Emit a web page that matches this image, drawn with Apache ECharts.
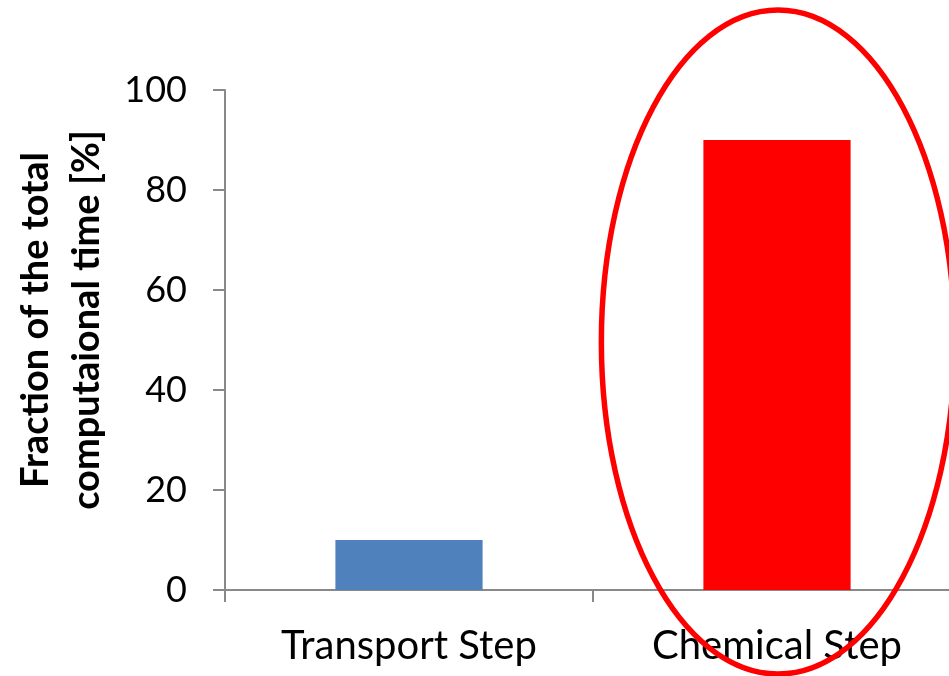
<!DOCTYPE html>
<html>
<head>
<meta charset="utf-8">
<script src="https://cdn.jsdelivr.net/npm/echarts@6/dist/echarts.min.js"></script>
<style>
html,body{margin:0;padding:0;background:#fff;}
#c{width:949px;height:676px;}
</style>
</head>
<body>
<div id="c"></div>
<script>
const categories = ['Transport Step', 'Chemical Step'];
const values = [10, 90];
const barColors = ['#4F81BD', '#FF0000'];
const yTicks = [0, 20, 40, 60, 80, 100];
const yAxisName = 'Fraction of the total\ncomputaional time [%]';
// highlight ellipse around the second category (data units)
const highlightCategory = 'Chemical Step';
const highlightCenterValue = 49.6;
const highlightHalfHeightValue = 66.4;
const highlightHalfWidthFraction = 0.48; // of category band width

(function () {
const chart = echarts.init(document.getElementById('c'));
const axisGray = '#898989';
chart.setOption({
  animation: false,
  backgroundColor: '#ffffff',
  grid: { left: 225, top: 90, width: 736, height: 500, containLabel: false, outerBoundsMode: 'none' },
  xAxis: {
    type: 'category',
    data: categories,
    boundaryGap: true,
    axisLine: { lineStyle: { color: axisGray, width: 2 } },
    axisTick: { show: true, length: 12, lineStyle: { color: axisGray, width: 2 } },
    axisLabel: { color: '#000', fontFamily: 'Lato', fontSize: 40, margin: 36 },
    splitLine: { show: false }
  },
  yAxis: {
    type: 'value',
    min: yTicks[0],
    max: yTicks[yTicks.length - 1],
    interval: 20,
    axisLine: { show: true, lineStyle: { color: axisGray, width: 2 } },
    axisTick: { show: true, length: 12, lineStyle: { color: axisGray, width: 2 } },
    axisLabel: { color: '#000', fontFamily: 'Lato', fontSize: 36, margin: 38 },
    splitLine: { show: false },
    name: yAxisName,
    nameLocation: 'middle',
    nameRotate: 90,
    nameGap: 113,
    nameTextStyle: { color: '#000', fontFamily: 'Lato', fontWeight: 'bold', fontSize: 38, lineHeight: 51, padding: [0, 0, 0, 40], align: 'center' }
  },
  series: [{
    type: 'bar',
    data: values.map((v, i) => ({ value: v, itemStyle: { color: barColors[i] } })),
    barWidth: '40%'
  }]
});

const ctr = chart.convertToPixel({ xAxisIndex: 0, yAxisIndex: 0 }, [highlightCategory, highlightCenterValue]);
const topPx = chart.convertToPixel({ yAxisIndex: 0 }, highlightCenterValue + highlightHalfHeightValue);
const p0 = chart.convertToPixel({ xAxisIndex: 0 }, categories[0]);
const p1 = chart.convertToPixel({ xAxisIndex: 0 }, categories[1]);
const band = Math.abs(p1 - p0);
chart.setOption({
  graphic: [{
    type: 'ellipse',
    z: 100,
    silent: true,
    shape: { cx: ctr[0] + 1, cy: ctr[1], rx: band * highlightHalfWidthFraction, ry: ctr[1] - topPx },
    style: { fill: 'none', stroke: '#FF0000', lineWidth: 5.5 }
  }]
});
})();
</script>
</body>
</html>
